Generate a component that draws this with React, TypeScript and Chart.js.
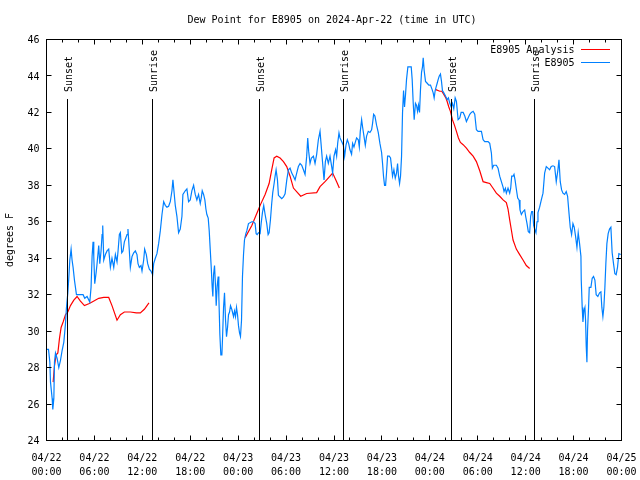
import React, { useEffect, useRef } from "react";
import { Chart, registerables } from "chart.js";

Chart.register(...registerables);

// ---- Data (hours since 2024-04-22 00:00 UTC) ----
const blueHours = [
  0.05, 0.25, 0.42, 0.5, 0.71, 0.79, 0.92, 1.0, 1.125, 1.33, 1.54, 1.75, 1.96, 2.17, 2.375, 2.5, 2.67, 2.79, 2.92, 3.08,
  3.2, 3.33, 3.5, 3.75, 4.25, 4.58, 4.79, 5.08, 5.42, 5.58, 5.71, 5.83, 5.92, 6.04, 6.21, 6.33, 6.54, 6.67, 6.83, 6.96,
  7.04, 7.17, 7.375, 7.58, 7.79, 8.0, 8.2, 8.42, 8.625, 8.83, 8.96, 9.125, 9.25, 9.42, 9.58, 9.75, 9.92, 10.08, 10.2, 10.33,
  10.5, 10.71, 10.92, 11.125, 11.33, 11.46, 11.625, 11.83, 11.96, 12.17, 12.29, 12.5, 12.67, 12.875, 13.08, 13.29, 13.42, 13.625, 13.83, 14.04,
  14.25, 14.46, 14.67, 14.875, 15.08, 15.29, 15.5, 15.71, 15.83, 16.0, 16.125, 16.33, 16.54, 16.75, 16.96, 17.08, 17.375, 17.58, 17.79, 18.0,
  18.2, 18.42, 18.625, 18.83, 19.04, 19.25, 19.375, 19.5, 19.67, 19.83, 19.96, 20.08, 20.25, 20.375, 20.5, 20.625, 20.75, 20.83, 20.92, 21.04,
  21.17, 21.25, 21.375, 21.5, 21.58, 21.71, 21.83, 21.96, 22.04, 22.17, 22.29, 22.42, 22.54, 22.67, 22.79, 22.92, 23.04, 23.2, 23.42, 23.54,
  23.67, 23.79, 23.92, 24.04, 24.17, 24.29, 24.42, 24.54, 24.67, 24.79, 24.96, 25.08, 25.29, 25.71, 25.92, 26.125, 26.25, 26.375, 26.54, 26.75,
  26.875, 27.04, 27.2, 27.375, 27.58, 27.75, 27.875, 28.04, 28.2, 28.33, 28.5, 28.625, 28.75, 28.92, 29.04, 29.25, 29.46, 29.67, 29.875, 30.08,
  30.29, 30.5, 30.71, 30.92, 31.125, 31.33, 31.54, 31.75, 31.96, 32.17, 32.375, 32.58, 32.71, 32.83, 33.0, 33.17, 33.42, 33.625, 33.83, 34.04,
  34.25, 34.375, 34.54, 34.75, 34.92, 35.08, 35.29, 35.5, 35.71, 35.83, 36.0, 36.2, 36.33, 36.46, 36.625, 36.75, 36.96, 37.17, 37.33, 37.5,
  37.67, 37.83, 38.0, 38.2, 38.33, 38.5, 38.625, 38.83, 39.04, 39.17, 39.29, 39.46, 39.58, 39.75, 39.92, 40.08, 40.29, 40.5, 40.71, 40.83,
  40.96, 41.125, 41.33, 41.54, 41.75, 41.96, 42.08, 42.2, 42.33, 42.46, 42.58, 42.71, 42.92, 43.08, 43.21, 43.33, 43.5, 43.67, 43.83, 43.96,
  44.08, 44.21, 44.33, 44.46, 44.58, 44.71, 44.83, 44.96, 45.08, 45.25, 45.67, 45.79, 45.92, 46.04, 46.2, 46.33, 46.46, 46.58, 46.71, 46.83,
  46.96, 47.08, 47.17, 47.29, 47.46, 47.67, 47.875, 48.08, 48.29, 48.42, 48.54, 48.67, 48.79, 48.92, 49.04, 49.17, 49.33, 49.46, 49.58, 49.75,
  49.96, 50.17, 50.33, 50.5, 50.67, 50.83, 51.0, 51.17, 51.33, 51.54, 51.75, 51.92, 52.17, 52.375, 52.58, 52.79, 53.0, 53.2, 53.42, 53.625,
  53.83, 54.04, 54.46, 54.67, 54.875, 55.29, 55.5, 55.71, 55.83, 56.0, 56.33, 56.54, 56.75, 56.96, 57.17, 57.29, 57.46, 57.58, 57.79, 58.0,
  58.125, 58.25, 58.42, 58.54, 58.67, 58.83, 59.0, 59.17, 59.29, 59.46, 59.67, 59.875, 60.0, 60.17, 60.33, 60.5, 60.625, 60.75, 60.875, 61.0,
  61.125, 61.29, 61.42, 61.54, 61.75, 61.96, 62.17, 62.375, 62.58, 62.79, 63.0, 63.2, 63.42, 63.625, 63.83, 64.04, 64.17, 64.33, 64.5, 64.67,
  64.875, 65.08, 65.25, 65.42, 65.58, 65.75, 65.92, 66.08, 66.25, 66.42, 66.58, 66.75, 66.92, 66.96, 67.08, 67.17, 67.29, 67.42, 67.5, 67.58,
  67.67, 67.75, 67.875, 67.96, 68.17, 68.33, 68.5, 68.67, 68.83, 69.04, 69.25, 69.42, 69.54, 69.67, 69.79, 69.92, 70.04, 70.17, 70.33, 70.5,
  70.67, 70.83, 71.0, 71.17, 71.33, 71.5, 71.67, 71.9,
];
const blueValues = [
  29.0, 29.0, 28.3, 27.2, 26.3, 25.7, 26.3, 28.3, 28.8, 28.5, 28.0, 28.4, 28.95, 29.4, 30.4, 31.3, 32.1, 32.9, 33.9, 34.5,
  33.9, 33.5, 32.8, 32.0, 32.0, 32.0, 31.8, 31.9, 31.6, 32.4, 34.1, 34.9, 34.1, 32.6, 33.2, 33.7, 34.7, 33.7, 34.4, 35.3,
  35.8, 33.9, 34.2, 34.4, 34.5, 33.5, 34.0, 33.5, 34.2, 33.8, 34.4, 35.3, 35.4, 34.3, 34.4, 34.9, 35.1, 35.3, 35.6, 34.7,
  33.5, 34.1, 34.3, 34.4, 34.2, 33.7, 33.5, 33.6, 33.3, 33.9, 34.5, 34.2, 33.7, 33.4, 33.3, 33.1, 33.7, 34.0, 34.25, 34.8,
  35.5, 36.4, 37.1, 36.9, 36.8, 36.85, 37.1, 37.7, 38.3, 37.5, 36.9, 36.3, 35.4, 35.6, 36.3, 37.5, 37.7, 37.8, 37.1, 37.2,
  37.7, 38.0, 37.5, 37.2, 37.5, 37.0, 37.3, 37.7, 37.5, 37.2, 36.7, 36.4, 36.2, 35.5, 34.5, 33.5, 32.4, 31.9, 33.1, 33.6,
  32.4, 31.4, 32.5, 33.0, 31.9, 29.8, 28.7, 28.7, 29.6, 31.3, 32.1, 30.6, 29.7, 30.2, 30.9, 31.05, 31.4, 31.2, 30.8, 31.1,
  30.8, 31.3, 30.9, 30.3, 29.9, 29.7, 30.6, 33.0, 34.2, 35.0, 35.35, 35.5, 35.9, 36.0, 36.0, 35.9, 35.35, 35.3, 35.4, 35.35,
  35.9, 36.5, 36.9, 36.4, 35.9, 35.3, 35.4, 36.1, 37.0, 37.6, 38.1, 38.5, 38.85, 38.3, 37.45, 37.36, 37.27, 37.36, 37.54, 38.27,
  38.85, 38.94, 38.67, 38.5, 38.3, 38.67, 39.03, 39.2, 39.1, 38.85, 38.6, 39.6, 40.6, 39.86, 39.2, 39.5, 39.6, 39.2, 39.7, 40.5,
  40.96, 40.3, 39.4, 38.3, 39.3, 39.6, 39.2, 39.6, 39.03, 38.67, 39.6, 39.95, 39.6, 40.3, 40.87, 40.6, 40.4, 40.2, 39.6, 40.2,
  40.5, 40.3, 39.95, 39.7, 40.3, 40.1, 40.3, 40.6, 40.5, 40.1, 40.96, 41.6, 41.2, 40.7, 40.2, 40.7, 40.96, 40.9, 41.05, 41.4,
  41.9, 41.8, 41.3, 40.9, 40.3, 39.8, 39.2, 38.5, 38.0, 38.0, 38.7, 39.6, 39.6, 39.5, 39.0, 38.5, 38.85, 38.4, 38.67, 39.2,
  38.5, 38.1, 38.5, 39.6, 41.97, 43.2, 42.3, 43.0, 43.8, 44.5, 44.5, 43.8, 42.5, 41.6, 42.5, 42.4, 42.06, 42.4, 42.0, 43.25,
  44.2, 44.5, 45.0, 44.3, 43.7, 43.6, 43.5, 43.5, 43.25, 43.07, 42.8, 43.2, 43.4, 43.6, 43.8, 43.98, 44.1, 43.7, 43.2, 43.07,
  42.9, 42.7, 42.8, 42.5, 42.3, 42.5, 42.2, 42.8, 42.6, 41.6, 41.7, 42.0, 42.0, 41.8, 41.5, 41.7, 41.9, 42.0, 42.06, 41.9,
  41.05, 40.96, 40.96, 40.5, 40.4, 40.4, 40.3, 39.77, 38.94, 39.1, 39.1, 38.94, 38.5, 38.2, 37.9, 37.66, 37.84, 37.57, 37.84, 37.57,
  37.84, 38.5, 38.5, 38.6, 38.3, 37.8, 37.3, 37.2, 36.65, 36.4, 36.56, 36.65, 36.3, 35.9, 35.46, 35.4, 36.3, 36.56, 36.56, 35.8,
  35.6, 35.4, 36.0, 36.5, 36.8, 37.2, 37.57, 38.67, 39.03, 38.94, 38.85, 39.03, 39.07, 39.03, 38.2, 38.85, 39.4, 38.2, 37.75, 37.57,
  37.5, 37.66, 37.4, 36.5, 35.7, 35.3, 35.9, 35.7, 35.2, 34.6, 35.4, 34.8, 34.1, 32.8, 31.3, 30.5, 31.1, 31.3, 30.6, 29.2,
  28.3, 30.05, 31.3, 32.4, 32.4, 32.9, 33.0, 32.8, 32.0, 31.9, 32.1, 32.15, 31.3, 30.8, 31.3, 32.4, 33.7, 34.8, 35.35, 35.6,
  35.7, 34.3, 33.7, 33.15, 33.1, 33.5, 34.25, 34.2,
];

// Analysis series; null marks a gap between runs
const redHours = [
  0.83, 1.0, 1.21, 1.42, 1.625, 1.83, 2.08, 2.375, 2.67, 3.0, 3.42, 3.83, 4.25, 4.75, 5.29, 5.71, 6.54, 7.17, 7.79, 8.2,
  8.83, 9.25, 9.75, 10.5, 11.25, 11.75, 12.25, 12.83,
  18,
  24.875, 25.71, 26.33, 26.75, 27.375, 27.875, 28.2, 28.5, 28.83, 29.25, 29.67, 30.08, 30.5, 30.92, 31.83, 32.58, 33.83, 34.25, 34.875, 35.08,
  35.83, 36.33, 36.67,
  42,
  48.75, 49.25, 49.5, 49.75, 50.0, 50.17, 50.375, 50.58, 50.83, 51.08, 51.33, 51.58, 51.83, 52.17, 52.58, 53.0, 53.42, 53.83, 54.25, 54.67,
  55.08, 55.5, 55.92, 56.33, 56.75, 57.17, 57.58, 57.79, 58.0, 58.21, 58.42, 58.83, 59.25, 59.67, 60.08, 60.5,
];
const redValues = [
  27.2, 28.1, 28.7, 28.8, 29.6, 30.2, 30.5, 30.9, 31.05, 31.4, 31.7, 31.9, 31.65, 31.4, 31.5, 31.6, 31.8, 31.85, 31.85, 31.4,
  30.6, 30.9, 31.05, 31.05, 31.0, 31.0, 31.2, 31.55,
  null,
  35.13, 35.8, 36.45, 36.9, 37.5, 38.1, 38.85, 39.5, 39.6, 39.5, 39.3, 39.03, 38.5, 37.85, 37.4, 37.55, 37.6, 37.93, 38.2, 38.3,
  38.67, 38.2, 37.85,
  null,
  43.25, 43.16, 43.16, 42.98, 42.8, 42.6, 42.3, 42.06, 41.6, 41.3, 40.96, 40.6, 40.35, 40.23, 40.04, 39.8, 39.6, 39.3, 38.8, 38.2,
  38.15, 38.1, 37.84, 37.57, 37.4, 37.2, 37.05, 36.7, 36.1, 35.55, 35.0, 34.5, 34.2, 33.9, 33.6, 33.44,
];

const eventHours = [2.67, 13.29, 26.67, 37.17, 50.67, 61.1];
const eventLabels = ["Sunset", "Sunrise", "Sunset", "Sunrise", "Sunset", "Sunrise"];

const xMajorTicks = [0, 6, 12, 18, 24, 30, 36, 42, 48, 54, 60, 66, 72];
const xDateLabels = ["04/22", "04/22", "04/22", "04/22", "04/23", "04/23", "04/23", "04/23", "04/24", "04/24", "04/24", "04/24", "04/25"];
const xTimeLabels = ["00:00", "06:00", "12:00", "18:00", "00:00", "06:00", "12:00", "18:00", "00:00", "06:00", "12:00", "18:00", "00:00"];
const xMinorStep = 2;
const yTicks = [24, 26, 28, 30, 32, 34, 36, 38, 40, 42, 44, 46];

const titleText = "Dew Point for E8905 on 2024-Apr-22 (time in UTC)";
const yTitle = "degrees F";
const seriesNames = ["E8905 Analysis", "E8905"];
const RED = "#ff0000";
const BLUE = "#0080ff";
const FONT = '10px "DejaVu Sans Mono", "Liberation Mono", monospace';

const px = (v: number) => Math.floor(v) + 0.5;

const decorPlugin = {
  id: "decor",
  afterDatasetsDraw(chart: any) {
    const { ctx, chartArea } = chart;
    const xs = chart.scales.x;
    const ys = chart.scales.y;
    const L = chartArea.left, R = chartArea.right, T = chartArea.top, B = chartArea.bottom;
    ctx.save();
    ctx.font = FONT;
    ctx.fillStyle = "#000";
    ctx.strokeStyle = "#000";
    ctx.lineWidth = 1;

    // event lines & labels
    eventHours.forEach((h, i) => {
      const x = px(xs.getPixelForValue(h));
      ctx.beginPath();
      ctx.moveTo(x, 99);
      ctx.lineTo(x, B);
      ctx.stroke();
      ctx.save();
      ctx.translate(x + 1.5, 92);
      ctx.rotate(-Math.PI / 2);
      ctx.textAlign = "left";
      ctx.textBaseline = "middle";
      ctx.fillText(eventLabels[i], 0, 0);
      ctx.restore();
    });

    // frame
    ctx.strokeRect(L, T, R - L, B - T);

    // ticks
    ctx.beginPath();
    for (let h = 0; h <= 72; h += xMinorStep) {
      const x = px(xs.getPixelForValue(h));
      const len = h % 6 === 0 ? 5 : 3;
      ctx.moveTo(x, B);
      ctx.lineTo(x, B - len);
      ctx.moveTo(x, T);
      ctx.lineTo(x, T + len);
    }
    yTicks.forEach((v) => {
      const y = px(ys.getPixelForValue(v));
      ctx.moveTo(L, y);
      ctx.lineTo(L + 5, y);
      ctx.moveTo(R, y);
      ctx.lineTo(R - 5, y);
    });
    ctx.stroke();

    // tick labels
    ctx.textBaseline = "middle";
    ctx.textAlign = "right";
    yTicks.forEach((v) => {
      const y = ys.getPixelForValue(v);
      ctx.fillText(String(v), 39.5, y + 1);
    });
    ctx.textAlign = "center";
    xMajorTicks.forEach((h, i) => {
      const x = xs.getPixelForValue(h);
      ctx.fillText(xDateLabels[i], x, 458);
      ctx.fillText(xTimeLabels[i], x, 472);
    });

    // title
    ctx.fillText(titleText, 332, 20);

    // y title
    ctx.save();
    ctx.translate(10, 240);
    ctx.rotate(-Math.PI / 2);
    ctx.textAlign = "center";
    ctx.fillText(yTitle, 0, 0);
    ctx.restore();

    // legend
    ctx.textAlign = "right";
    ctx.fillText(seriesNames[0], 574.5, 50);
    ctx.fillText(seriesNames[1], 574.5, 63);
    ctx.beginPath();
    ctx.strokeStyle = RED;
    ctx.moveTo(581, 49.5);
    ctx.lineTo(610, 49.5);
    ctx.stroke();
    ctx.beginPath();
    ctx.strokeStyle = BLUE;
    ctx.moveTo(581, 62.5);
    ctx.lineTo(610, 62.5);
    ctx.stroke();
    ctx.restore();
  },
};

export default function App() {
  const canvasRef = useRef<HTMLCanvasElement | null>(null);

  useEffect(() => {
    const canvas = canvasRef.current;
    if (!canvas) return;
    const bluePts = blueHours.map((h, i) => ({ x: h, y: blueValues[i] }));
    const redPts = redHours.map((h, i) => ({ x: h, y: redValues[i] }));
    const chart = new Chart(canvas, {
      type: "line",
      data: {
        datasets: [
          {
            label: seriesNames[1],
            data: bluePts as any,
            borderColor: BLUE,
            borderWidth: 1.2,
            pointRadius: 0,
            tension: 0,
            spanGaps: false,
          },
          {
            label: seriesNames[0],
            data: redPts as any,
            borderColor: RED,
            borderWidth: 1.2,
            pointRadius: 0,
            tension: 0,
            spanGaps: false,
          },
        ],
      },
      options: {
        animation: false,
        responsive: false,
        maintainAspectRatio: false,
        devicePixelRatio: 1,
        layout: { padding: { left: 46.5, right: 18.5, top: 39.5, bottom: 39.5 } },
        plugins: { legend: { display: false }, title: { display: false }, tooltip: { enabled: false } },
        events: [],
        scales: {
          x: { type: "linear", min: 0, max: 72, display: false },
          y: { type: "linear", min: 24, max: 46, display: false },
        },
      },
      plugins: [decorPlugin],
    });
    return () => chart.destroy();
  }, []);

  return (
    <div style={{ position: "fixed", left: 0, top: 0, width: 640, height: 480, background: "#fff" }}>
      <canvas ref={canvasRef} width={640} height={480} style={{ display: "block", width: 640, height: 480 }} />
    </div>
  );
}
